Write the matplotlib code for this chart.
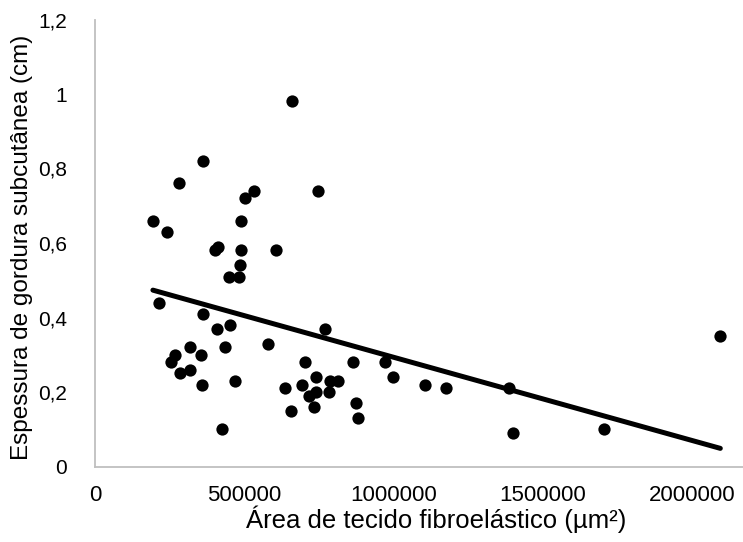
import numpy as np
import matplotlib
matplotlib.use("Agg")
import matplotlib.pyplot as plt

plt.rcParams['font.family'] = ['Liberation Sans', 'DejaVu Sans']

# area of fibroelastic tissue (um^2) and subcutaneous fat thickness (cm)
area = np.array([
    660000, 362000, 281000, 532000, 504000, 746000, 194000, 241000, 489000,
    402000, 413000, 490000, 606000, 485000, 448000, 481000, 214000, 361000,
    408000, 451000, 771000, 579000, 319000, 434000, 268000, 354000, 256000,
    317000, 285000, 360000, 468000, 704000, 865000, 973000, 997000, 1107000,
    1176000, 635000, 693000, 739000, 787000, 815000, 739000, 717000, 785000,
    657000, 733000, 876000, 882000, 425000, 1388000, 1401000, 1705000, 2095000,
])
espessura = np.array([
    0.98, 0.82, 0.76, 0.74, 0.72, 0.74, 0.66, 0.63, 0.66,
    0.58, 0.59, 0.58, 0.58, 0.54, 0.51, 0.51, 0.44, 0.41,
    0.37, 0.38, 0.37, 0.33, 0.32, 0.32, 0.30, 0.30, 0.28,
    0.26, 0.25, 0.22, 0.23, 0.28, 0.28, 0.28, 0.24, 0.22,
    0.21, 0.21, 0.22, 0.24, 0.23, 0.23, 0.20, 0.19, 0.20,
    0.15, 0.16, 0.17, 0.13, 0.10, 0.21, 0.09, 0.10, 0.35,
])

x_ticks = [0, 500000, 1000000, 1500000, 2000000]
y_ticks = [0, 0.2, 0.4, 0.6, 0.8, 1.0, 1.2]
y_tick_labels = ['0', '0,2', '0,4', '0,6', '0,8', '1', '1,2']

fig = plt.figure(figsize=(7.43, 5.42), dpi=100)
ax = fig.add_axes([95 / 743, 1 - 466.5 / 542, 1 - 95 / 743, 447 / 542])

ax.scatter(area, espessura, s=78, color='black', zorder=3, linewidths=0)

# linear trendline
coef = np.polyfit(area, espessura, 1)
xs = np.array([area.min(), area.max()])
ax.plot(xs, np.polyval(coef, xs), color='black', lw=3.6, solid_capstyle='round', zorder=2)

ax.set_xlim(0, 2171000)
ax.set_ylim(0, 1.2)
ax.set_xticks(x_ticks)
ax.set_xticklabels([str(v) for v in x_ticks])
ax.set_yticks(y_ticks)
ax.set_yticklabels(y_tick_labels)
ax.tick_params(length=0, colors='black')
ax.tick_params(axis='y', pad=20, labelsize=15)
ax.tick_params(axis='x', pad=13, labelsize=16)

for side in ['top', 'right']:
    ax.spines[side].set_visible(False)
for side in ['left', 'bottom']:
    ax.spines[side].set_color('#bfbfbf')
    ax.spines[side].set_linewidth(1.3)

ax.set_xlabel('Área de tecido fibroelástico (µm²)', fontsize=18.5)
ax.set_ylabel('Espessura de gordura subcutânea (cm)', fontsize=17.5)
ax.xaxis.set_label_coords(0.526, -0.088)
ax.yaxis.set_label_coords(-0.095, 0.49)

fig.savefig('out.png', dpi=100)
